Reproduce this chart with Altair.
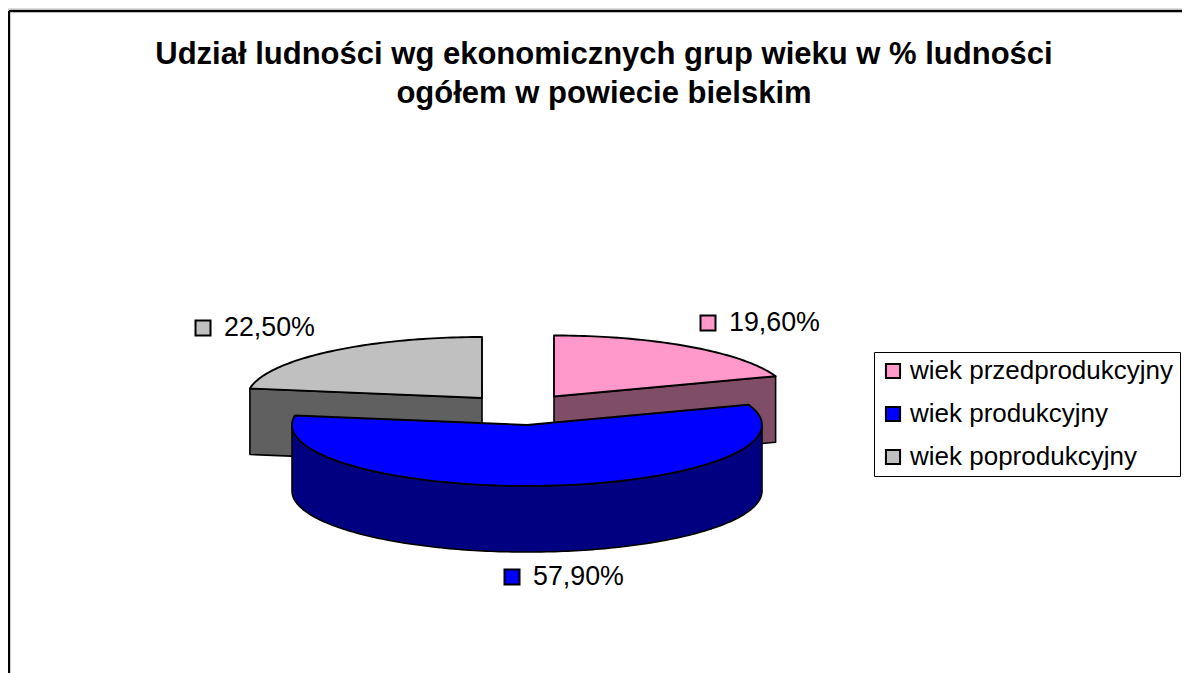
import math
import altair as alt

# ---- values
NAMES = ["wiek przedprodukcyjny", "wiek produkcyjny", "wiek poprodukcyjny"]
SHARES = [19.6, 57.9, 22.5]
LABELS = ["19,60%", "57,90%", "22,50%"]
TITLE = ["Udział ludności wg ekonomicznych grup wieku w % ludności",
         "ogółem w powiecie bielskim"]

# ---- styles
TOP_COLORS = ["#FF99CC", "#0000FF", "#C0C0C0"]
WALL_COLORS = ["#804D66", "#000080", "#606060"]
FONT = "Liberation Sans"

# ---- layout (pixels inside the chart; the page adds 8px)
W, H = 1174, 670
OX, OY = 8, 8
CENTERS = [(554, 396.5), (527, 425), (482, 398)]
RX, RY, DEPTH = 235, 61, 66
LABEL_AT = [(708, 323), (512, 577), (203, 328)]
TEXT_GAP = 21


def pt(cx, cy, deg, dy=0):
    a = math.radians(deg)
    return [cx - OX + RX * math.sin(a), cy - OY - RY * math.cos(a) + dy]


def feature(coords, name):
    ring = coords + [coords[0]]
    return {"type": "Feature", "properties": {"name": name},
            "geometry": {"type": "Polygon", "coordinates": [ring]}}


# slice angles from the shares
starts, run = [], 0.0
for s in SHARES:
    starts.append(run)
    run += s * 3.6

tops, walls = [], []
for name, share, start, (cx, cy) in zip(NAMES, SHARES, starts, CENTERS):
    end = start + share * 3.6
    steps = max(2, int(share * 3))
    rim = [pt(cx, cy, start + (end - start) * i / steps) for i in range(steps + 1)]
    centre = [cx - OX, cy - OY]
    tops.append(feature([centre] + rim, name))
    # the wall that shows: outer rim on the front half, cut face elsewhere
    lo, hi = max(start, 90), min(end, 270)
    if hi > lo:
        arc = [lo + (hi - lo) * i / steps for i in range(steps + 1)]
        upper = [pt(cx, cy, d) for d in arc]
        lower = [pt(cx, cy, d, DEPTH) for d in reversed(arc)]
        walls.append(feature(upper + lower, name))
    else:
        edge = end if start < 90 else start
        p = pt(cx, cy, edge)
        walls.append(feature([centre, p, [p[0], p[1] + DEPTH],
                              [centre[0], centre[1] + DEPTH]], name))

proj = alt.Projection(type="identity", scale=1, translate=[0, 0])
fill_scale = alt.Scale(domain=NAMES, range=TOP_COLORS)

wall_layers = [
    alt.Chart(alt.Data(values=[walls[i]]))
    .mark_geoshape(fill=WALL_COLORS[i], stroke="black", strokeWidth=1.6, strokeJoin="round")
    .project(**proj.to_dict())
    for i in (0, 2, 1)
]

top_layer = (
    alt.Chart(alt.Data(values=tops))
    .mark_geoshape(stroke="black", strokeWidth=1.9, strokeJoin="round")
    .encode(fill=alt.Fill(
        "properties.name:N", scale=fill_scale,
        legend=alt.Legend(
            title=None, orient="none", legendX=866, legendY=344,
            fillColor="white", strokeColor="black", padding=6,
            symbolType="square", symbolSize=200, symbolStrokeColor="black",
            symbolStrokeWidth=2, symbolOpacity=1,
            labelFont=FONT, labelFontSize=26, labelColor="black",
            labelOffset=4, rowPadding=17, labelLimit=400,
        ),
    ))
    .project(**proj.to_dict())
)

label_rows = [
    {"name": n, "label": t, "px": x - OX, "py": y - OY, "tx": x - OX + TEXT_GAP}
    for n, t, (x, y) in zip(NAMES, LABELS, LABEL_AT)
]
label_data = alt.Data(values=label_rows)

markers = (
    alt.Chart(label_data)
    .mark_point(shape="square", size=225, filled=True, stroke="black",
                strokeWidth=2, opacity=1)
    .encode(x=alt.X("px:Q", scale=None, axis=None),
            y=alt.Y("py:Q", scale=None, axis=None),
            fill=alt.Fill("name:N", scale=fill_scale, legend=None))
)
texts = (
    alt.Chart(label_data)
    .mark_text(align="left", baseline="middle", font=FONT, fontSize=26.8, color="black")
    .encode(x=alt.X("tx:Q", scale=None, axis=None),
            y=alt.Y("py:Q", scale=None, axis=None),
            text="label:N")
)

left_rule = alt.Chart(alt.Data(values=[{"a": 1}])).mark_rule(color="black", strokeWidth=2.4).encode(
    x=alt.value(1), y=alt.value(3), y2=alt.value(H))
top_rule = alt.Chart(alt.Data(values=[{"a": 1}])).mark_rule(color="black", strokeWidth=2.4).encode(
    x=alt.value(1), x2=alt.value(W), y=alt.value(3))

chart = (
    alt.layer(left_rule, top_rule, *wall_layers, top_layer, markers, texts)
    .properties(
        width=W, height=H, padding=0,
        autosize=alt.AutoSizeParams(type="none"),
        title=alt.TitleParams(
            text=TITLE, anchor="middle", font=FONT, fontSize=31, fontWeight="bold",
            color="black", lineHeight=39, baseline="top", offset=0, dx=9, dy=102,
        ),
    )
    .configure_view(stroke=None)
    .configure(background="white")
)

chart.save("out.html", embed_options={"renderer": "svg", "actions": False})
